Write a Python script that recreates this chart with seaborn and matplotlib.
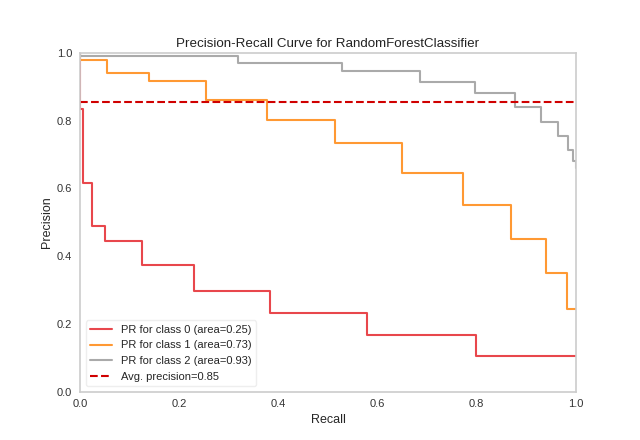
import numpy as np
import pandas as pd
import seaborn as sns
import matplotlib
matplotlib.use("Agg")
import matplotlib.pyplot as plt

# step points (recall ascending, precision per step)
recall_0 = [0.0, 0.006, 0.024, 0.05, 0.125, 0.23, 0.384, 0.578, 0.798, 1.0]
precision_0 = [1.0, 0.835, 0.615, 0.489, 0.445, 0.374, 0.296, 0.231, 0.167, 0.104]

recall_1 = [0.0, 0.055, 0.139, 0.254, 0.378, 0.514, 0.65, 0.772, 0.869, 0.939, 0.981, 1.0]
precision_1 = [1.0, 0.978, 0.939, 0.917, 0.86, 0.803, 0.734, 0.645, 0.551, 0.45, 0.35, 0.243]

recall_2 = [0.0, 0.318, 0.529, 0.686, 0.797, 0.877, 0.929, 0.963, 0.984, 0.994, 1.0, 1.0]
precision_2 = [1.0, 0.99, 0.971, 0.947, 0.915, 0.881, 0.841, 0.797, 0.755, 0.714, 0.681, 0.659]

class_areas = [0.25, 0.73, 0.93]
avg_precision = 0.854

colors = ["#e8474c", "#ff9933", "#aaaaaa"]

sns.set_style("white", {"axes.edgecolor": "#cccccc"})
plt.rcParams["font.family"] = ["Liberation Sans", "DejaVu Sans"]

fig, ax = plt.subplots(figsize=(6.4, 4.4), dpi=100)

curves = [(recall_0, precision_0), (recall_1, precision_1), (recall_2, precision_2)]
for i, (rec, prec) in enumerate(curves):
    df = pd.DataFrame({"recall": rec, "precision": prec})
    sns.lineplot(data=df, x="recall", y="precision", ax=ax,
                 drawstyle="steps-pre", estimator=None, sort=False,
                 color=colors[i], lw=1.5,
                 label="PR for class {} (area={:0.2f})".format(i, class_areas[i]))

ax.axhline(avg_precision, ls="--", color="#d00000", lw=1.5,
           label="Avg. precision={:0.2f}".format(avg_precision))

ax.set_xlim(0, 1)
ax.set_ylim(0, 1)
ax.set_xticks(np.arange(0, 1.01, 0.2))
ax.set_yticks(np.arange(0, 1.01, 0.2))
ax.tick_params(labelsize=8, length=0, pad=5.5, colors="#333333")
ax.set_title("Precision-Recall Curve for RandomForestClassifier", fontsize=9.6,
             color="#222222", pad=4.5)
ax.set_xlabel("Recall", fontsize=9, labelpad=3.5)
ax.set_ylabel("Precision", fontsize=9, labelpad=3)
for s in ax.spines.values():
    s.set_linewidth(1.2)

leg = ax.legend(loc="lower left", fontsize=8, frameon=True, framealpha=1,
                edgecolor="#eeeeee", borderaxespad=0.5)

fig.subplots_adjust(left=0.125, right=0.9, bottom=0.11, top=0.88)
fig.savefig("out.png", dpi=100)
